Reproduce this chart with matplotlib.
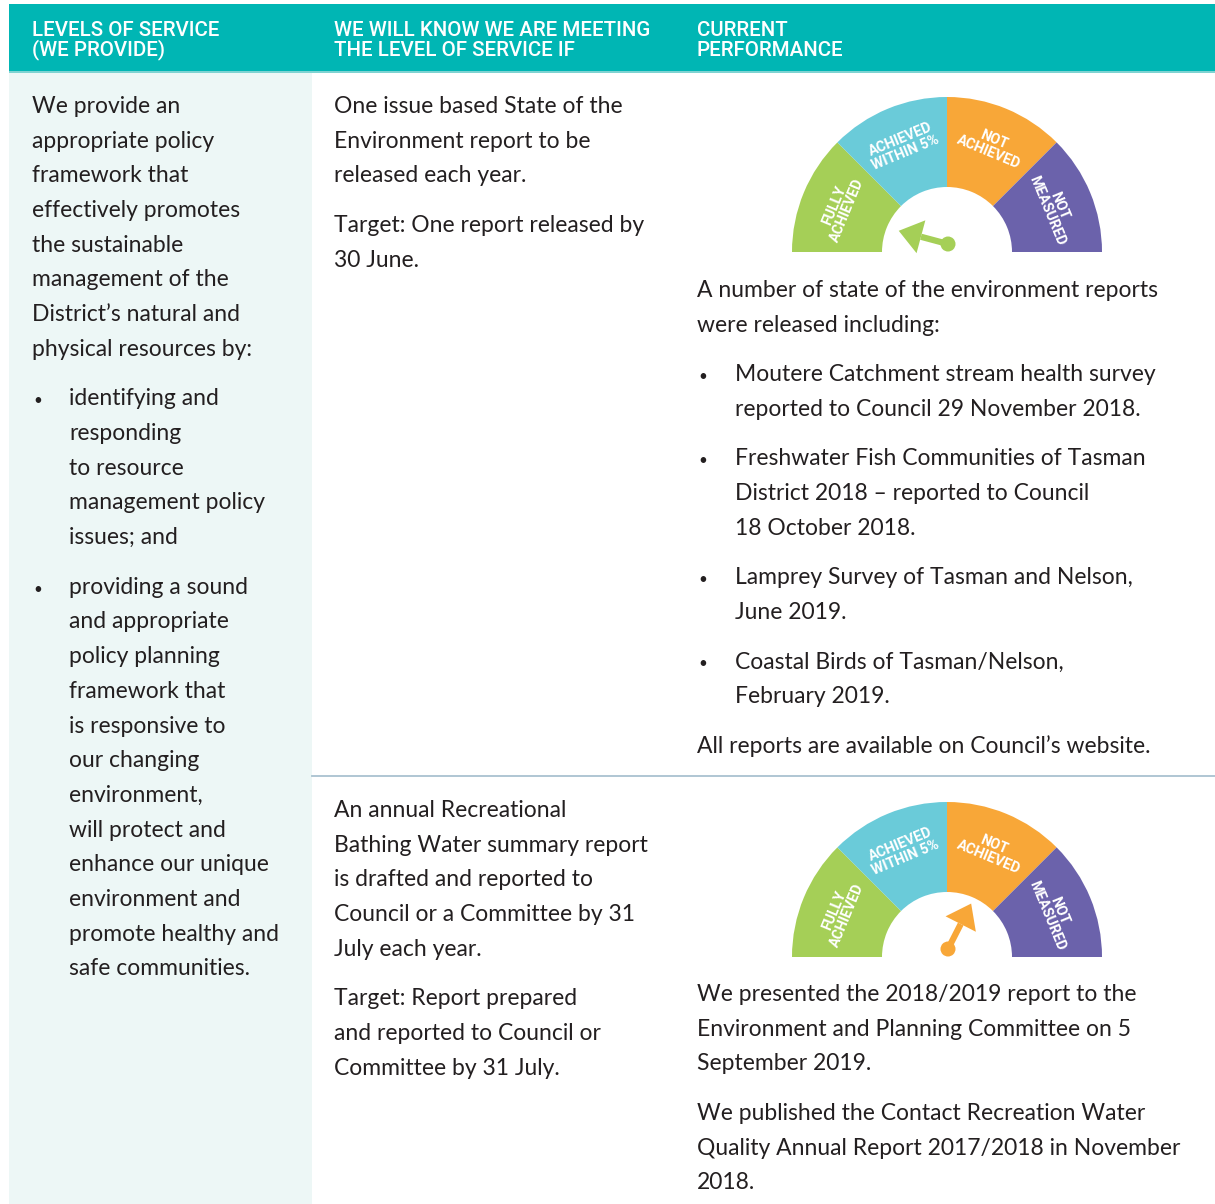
import numpy as np
import matplotlib
matplotlib.use('Agg')
import matplotlib.pyplot as plt
from matplotlib.patches import Wedge, Rectangle, Circle, Polygon

# ---- content ----
headers = [['LEVELS OF SERVICE', '(WE PROVIDE)'],
           ['WE WILL KNOW WE ARE MEETING', 'THE LEVEL OF SERVICE IF'],
           ['CURRENT', 'PERFORMANCE']]

col1_intro = ['We provide an', 'appropriate policy', 'framework that', 'effectively promotes',
              'the sustainable', 'management of the', 'District\u2019s natural and',
              'physical resources by:']
col1_bullets = [['identifying and', 'responding', 'to resource', 'management policy', 'issues; and'],
                ['providing a sound', 'and appropriate', 'policy planning', 'framework that',
                 'is responsive to', 'our changing', 'environment,', 'will protect and',
                 'enhance our unique', 'environment and', 'promote healthy and',
                 'safe communities.']]

row1_measure = [['One issue based State of the', 'Environment report to be', 'released each year.'],
                ['Target: One report released by', '30 June.']]
row1_result = [['A number of state of the environment reports', 'were released including:']]
row1_bullets = [['Moutere Catchment stream health survey', 'reported to Council 29 November 2018.'],
                ['Freshwater Fish Communities of Tasman', 'District 2018 \u2013 reported to Council',
                 '18 October 2018.'],
                ['Lamprey Survey of Tasman and Nelson,', 'June 2019.'],
                ['Coastal Birds of Tasman/Nelson,', 'February 2019.']]
row1_footer = [['All reports are available on Council\u2019s website.']]

row2_measure = [['An annual Recreational', 'Bathing Water summary report', 'is drafted and reported to',
                 'Council or a Committee by 31', 'July each year.'],
                ['Target: Report prepared', 'and reported to Council or', 'Committee by 31 July.']]
row2_result = [['We presented the 2018/2019 report to the', 'Environment and Planning Committee on 5',
                'September 2019.'],
               ['We published the Contact Recreation Water', 'Quality Annual Report 2017/2018 in November',
                '2018.']]

gauge_labels = ['FULLY\nACHIEVED', 'ACHIEVED\nWITHIN 5%', 'NOT\nACHIEVED', 'NOT\nMEASURED']
gauge_colors = ['#a5cf57', '#6acbd9', '#f8a738', '#6b62ab']
needle_deg = [165, 63]          # needle direction of each gauge (0 = right, 180 = left)
needle_colors = ['#a5cf57', '#f8a738']

# ---- style ----
TEAL = '#00b6b4'
PALE = '#edf7f6'
INK = '#231f20'
BODY = dict(family=['Lato', 'DejaVu Sans'], fontsize=16.5, color=INK, va='baseline', ha='left')
LINE = 34.7
PARA = 49.5

fig = plt.figure(figsize=(12.15, 12.04), dpi=100)
ax = fig.add_axes([0, 0, 1, 1])
ax.set_xlim(0, 1215)
ax.set_ylim(1204, 0)
ax.axis('off')

# header band and pale first column
ax.add_patch(Rectangle((9, 4), 1206, 68, color=TEAL, lw=0))
ax.add_patch(Rectangle((9, 71), 1206, 2, color='#7fd3d2', lw=0))
ax.add_patch(Rectangle((9, 73), 303, 1131, color=PALE, lw=0))
ax.plot([312, 1215], [776, 776], color='#a9c2d0', lw=1.3)

for x, h in zip([32, 334, 697], headers):
    for j, line in enumerate(h):
        ax.text(x, 36 + 19.5 * j, line, family=['Roboto', 'DejaVu Sans'], fontweight='medium',
                fontsize=14.8, color='white', va='baseline', ha='left')


def paragraphs(x, y, paras, bullet_x=None):
    for p in paras:
        if bullet_x is not None:
            ax.text(bullet_x, y, '\u2022', **{**BODY, 'fontsize': 11})
        for line in p:
            ax.text(x, y, line, **BODY)
            y += LINE
        y += PARA - LINE
    return y


# column 1
y = paragraphs(32, 113, [col1_intro])
paragraphs(69, y, col1_bullets, bullet_x=33)

# row 1
paragraphs(334, 113, row1_measure)
y = paragraphs(697, 297, row1_result)
y = paragraphs(735, y, row1_bullets, bullet_x=698)
paragraphs(697, y, row1_footer)

# row 2
paragraphs(334, 817, row2_measure)
paragraphs(697, 1001, row2_result)


def gauge(cx, cy, deg, ncol):
    r_out, r_in = 155, 65
    for i, (lab, col) in enumerate(zip(gauge_labels, gauge_colors)):
        a1 = 180 - 45 * (i + 1)
        a2 = 180 - 45 * i
        # y axis is flipped, so visual angles are negated
        ax.add_patch(Wedge((cx, cy), r_out, -a2, -a1, width=r_out - r_in, color=col, lw=0))
        mid = np.radians((a1 + a2) / 2)
        rt = 115
        ax.text(cx + rt * np.cos(mid), cy - rt * np.sin(mid), lab, rotation=np.degrees(mid) - 90,
                rotation_mode='anchor', ha='center', va='center', color='white',
                family=['Roboto', 'DejaVu Sans'], fontweight='bold', fontsize=10.2, linespacing=1.0)
    # needle
    px, py = cx + 1, cy - 8
    a = np.radians(deg)
    d = np.array([np.cos(a), -np.sin(a)])
    n = np.array([np.sin(a), np.cos(a)])
    L, hl, hw = 51, 23, 34
    tip = np.array([px, py]) + L * d
    base = tip - hl * d
    ax.plot([px, base[0]], [py, base[1]], color=ncol, lw=4.5, solid_capstyle='butt')
    ax.add_patch(Polygon([tip, base + hw / 2 * n, base - hw / 2 * n], closed=True, color=ncol, lw=0))
    ax.add_patch(Circle((px, py), 7.5, color=ncol, lw=0))


gauge(947, 252, needle_deg[0], needle_colors[0])
gauge(947, 957, needle_deg[1], needle_colors[1])

fig.savefig('out.png', dpi=100)
